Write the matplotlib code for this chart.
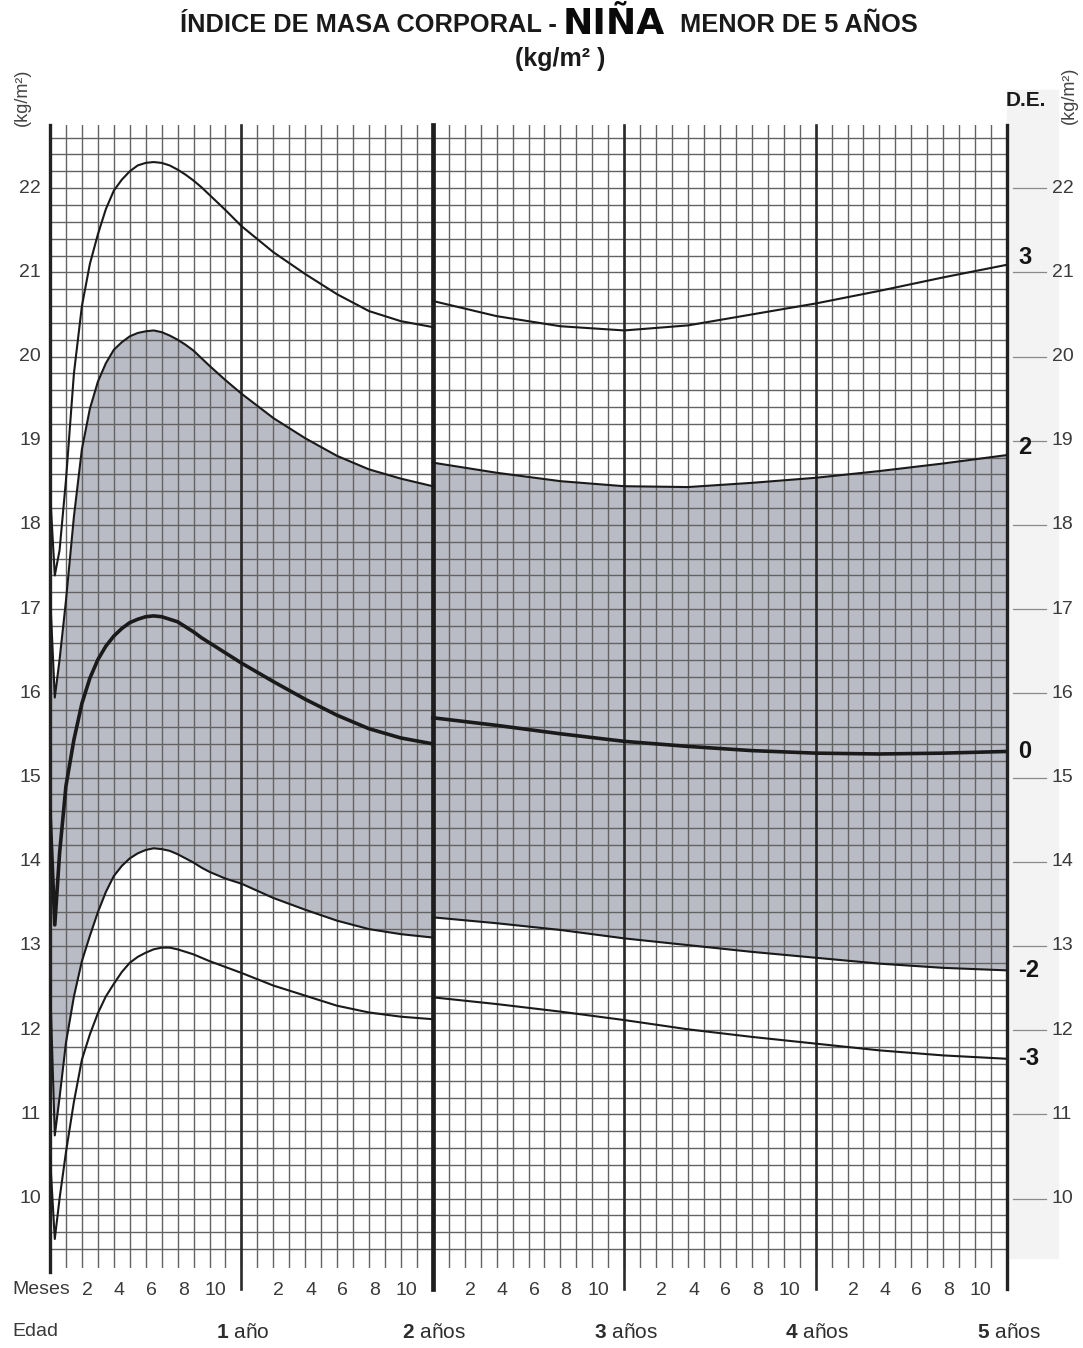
import numpy as np
import matplotlib
matplotlib.use('Agg')
import matplotlib.pyplot as plt
from matplotlib import font_manager as fm
from matplotlib.patches import Rectangle

# ---- data (BMI kg/m2, age in months) ----
left_months = [0, 0.3, 0.6, 1, 1.5, 2, 2.5, 3, 3.5, 4, 4.5, 5, 5.5, 6, 6.5, 7, 7.5,
               8, 8.5, 9, 9.5, 10, 11, 12, 14, 16, 18, 20, 22, 24]
sd3_left = [18.4, 17.4, 17.7, 18.53, 19.8, 20.6, 21.1, 21.45, 21.75, 21.97, 22.1,
            22.2, 22.27, 22.3, 22.31, 22.3, 22.27, 22.22, 22.16, 22.09, 22.01, 21.92,
            21.74, 21.55, 21.24, 20.98, 20.74, 20.54, 20.42, 20.35]
sd2_left = [17.2, 15.95, 16.4, 17.1, 18.1, 18.9, 19.38, 19.7, 19.92, 20.08, 20.17,
            20.24, 20.28, 20.3, 20.31, 20.29, 20.25, 20.2, 20.14, 20.07, 19.98, 19.89,
            19.72, 19.56, 19.27, 19.03, 18.82, 18.66, 18.55, 18.46]
sd0_left = [14.6, 13.25, 14.1, 14.9, 15.45, 15.88, 16.18, 16.4, 16.56, 16.68, 16.77,
            16.84, 16.88, 16.91, 16.92, 16.91, 16.88, 16.85, 16.79, 16.73, 16.66, 16.6,
            16.48, 16.36, 16.14, 15.93, 15.74, 15.58, 15.47, 15.4]
sdm2_left = [12.6, 10.75, 11.2, 11.85, 12.4, 12.82, 13.12, 13.4, 13.64, 13.83, 13.95,
             14.04, 14.1, 14.14, 14.16, 14.15, 14.13, 14.09, 14.04, 13.99, 13.93, 13.88,
             13.8, 13.74, 13.57, 13.43, 13.3, 13.2, 13.14, 13.1]
sdm3_left = [10.5, 9.52, 10.0, 10.55, 11.15, 11.65, 11.95, 12.2, 12.4, 12.55, 12.69,
             12.8, 12.87, 12.92, 12.96, 12.98, 12.98, 12.96, 12.93, 12.9, 12.86, 12.82,
             12.75, 12.68, 12.53, 12.41, 12.29, 12.21, 12.16, 12.13]

right_months = [24, 28, 32, 36, 40, 44, 48, 52, 56, 60]
sd3_right = [20.66, 20.48, 20.36, 20.31, 20.37, 20.5, 20.63, 20.78, 20.94, 21.09]
sd2_right = [18.74, 18.62, 18.52, 18.46, 18.45, 18.5, 18.56, 18.64, 18.73, 18.83]
sd0_right = [15.71, 15.62, 15.52, 15.43, 15.37, 15.32, 15.29, 15.28, 15.29, 15.31]
sdm2_right = [13.34, 13.27, 13.19, 13.09, 13.01, 12.93, 12.86, 12.79, 12.74, 12.71]
sdm3_right = [12.39, 12.31, 12.22, 12.12, 12.01, 11.92, 11.84, 11.76, 11.70, 11.66]

sd_names = ['3', '2', '0', '-2', '-3']
bmi_ticks = list(range(10, 23))
month_labels = [2, 4, 6, 8, 10]
year_labels = ['1 año', '2 años', '3 años', '4 años', '5 años']

# ---- fonts ----
names = {f.name for f in fm.fontManager.ttflist}
narrow = 'Liberation Sans'
for cand in ['Liberation Sans Narrow', 'DejaVu Sans Condensed']:
    if cand in names:
        narrow = cand
        break
plt.rcParams['font.family'] = [narrow, 'DejaVu Sans']
plt.rcParams['mathtext.fontset'] = 'custom'
plt.rcParams['mathtext.rm'] = narrow
plt.rcParams['mathtext.bf'] = narrow + ':bold'

W, H = 1083, 1348
fig = plt.figure(figsize=(W / 100, H / 100), dpi=100)
fig.patch.set_facecolor('white')

def fx(x):
    return x / W

def fy(y):
    return 1 - y / H

# light strip right of the grid (under everything)
fig.patches.append(Rectangle((fx(1007), fy(1258)), fx(1058) - fx(1007), fy(90) - fy(1258),
                             transform=fig.transFigure, color='#f3f3f3', zorder=-5))

ax_top, ax_bot = 125, 1267.6
ax = fig.add_axes([fx(50), fy(ax_bot), fx(1007) - fx(50), fy(ax_top) - fy(ax_bot)])
ax.set_xlim(0, 60)
ax.set_ylim(9.18, 22.75)
ax.set_facecolor('none')
for s in ax.spines.values():
    s.set_visible(False)
ax.set_xticks(np.arange(0, 61, 1))
ax.set_yticks(np.arange(9.4, 22.61, 0.2))
ax.tick_params(length=0, labelbottom=False, labelleft=False)
ax.set_axisbelow(False)
ax.grid(True, color='#636363', lw=1.0)

# shaded band between +2 and -2
band = '#b9bbc5'
ax.fill_between(left_months, sd2_left, sdm2_left, color=band, lw=0, zorder=1)
ax.fill_between(right_months, sd2_right, sdm2_right, color=band, lw=0, zorder=1)

# year lines
ax.plot([0, 0], [9.13, 22.75], color='#222222', lw=2.4, clip_on=False, zorder=4)
for m in [12, 36, 48]:
    ax.plot([m, m], [8.93, 22.75], color='#2a2a2a', lw=1.9, clip_on=False, zorder=4)
ax.plot([24, 24], [8.93, 22.75], color='#1e1e1e', lw=3.4, clip_on=False, zorder=4)
ax.plot([60, 60], [8.93, 22.75], color='#222222', lw=2.4, clip_on=False, zorder=4)

# curves
left_sets = [sd3_left, sd2_left, sd0_left, sdm2_left, sdm3_left]
right_sets = [sd3_right, sd2_right, sd0_right, sdm2_right, sdm3_right]
for name, yl, yr in zip(sd_names, left_sets, right_sets):
    lw = 2.6 if name == '0' else 1.5
    ax.plot(left_months, yl, color='#1a1a1a', lw=lw, solid_joinstyle='round', zorder=5)
    ax.plot(right_months, yr, color='#1a1a1a', lw=lw, solid_joinstyle='round', zorder=5)
    dy = 0.09 if name in ('3', '2') else 0.0
    ax.text(60.7, yr[-1] + dy, name, fontsize=17, fontweight='bold',
            family=['Liberation Sans', 'DejaVu Sans'], color='#151515',
            ha='left', va='center', clip_on=False)

# y labels both sides, right tick marks
for v in bmi_ticks:
    ax.text(-0.55, v, str(v), fontsize=14, color='#3a3a3a', ha='right', va='center',
            clip_on=False)
    ax.plot([60.35, 62.45], [v, v], color='#8a8a8a', lw=0.9, clip_on=False)
    ax.text(62.8, v, str(v), fontsize=14, color='#3a3a3a', ha='left', va='center',
            clip_on=False)

# month / age labels
for k in range(5):
    for m in month_labels:
        ax.text(12 * k + m + 0.35, 8.91, str(m), fontsize=14, color='#3a3a3a',
                ha='center', va='center', clip_on=False)
    num, word = year_labels[k].split(' ')
    ax.text(12 * (k + 1) + 0.1, 8.41, r'$\mathbf{%s}$ %s' % (num, word), fontsize=15,
            color='#2e2e2e', ha='center', va='center', clip_on=False)
fig.text(fx(12), fy(1290), 'Meses', fontsize=14, color='#3a3a3a', ha='left', va='center')
fig.text(fx(12), fy(1332), 'Edad', fontsize=14, color='#3a3a3a', ha='left', va='center')

# side units
fig.text(fx(22), fy(97), '(kg/m²)', fontsize=13, color='#444444', rotation=90,
         ha='center', va='center')
fig.text(fx(1069), fy(95), '(kg/m²)', fontsize=13, color='#444444', rotation=90,
         ha='center', va='center')
fig.text(fx(1026), fy(101), 'D.E.', fontsize=15, fontweight='bold', color='#1a1a1a',
         ha='center', va='center')

# title
tfam = ['Liberation Sans', 'DejaVu Sans']
fig.text(fx(557), fy(25), 'ÍNDICE DE MASA CORPORAL -', fontsize=18.3, fontweight='bold',
         family=tfam, color='#1a1a1a', ha='right', va='center')
fig.text(fx(563), fy(24), 'NIÑA', fontsize=26, fontweight='bold',
         family=['DejaVu Sans'], color='#0a0a0a', ha='left', va='center')
fig.text(fx(680), fy(25), 'MENOR DE 5 AÑOS', fontsize=18.3, fontweight='bold',
         family=tfam, color='#1a1a1a', ha='left', va='center')
fig.text(fx(560), fy(59), '(kg/m² )', fontsize=18, fontweight='bold',
         family=tfam, color='#1a1a1a', ha='center', va='center')

fig.savefig('out.png', dpi=100)
